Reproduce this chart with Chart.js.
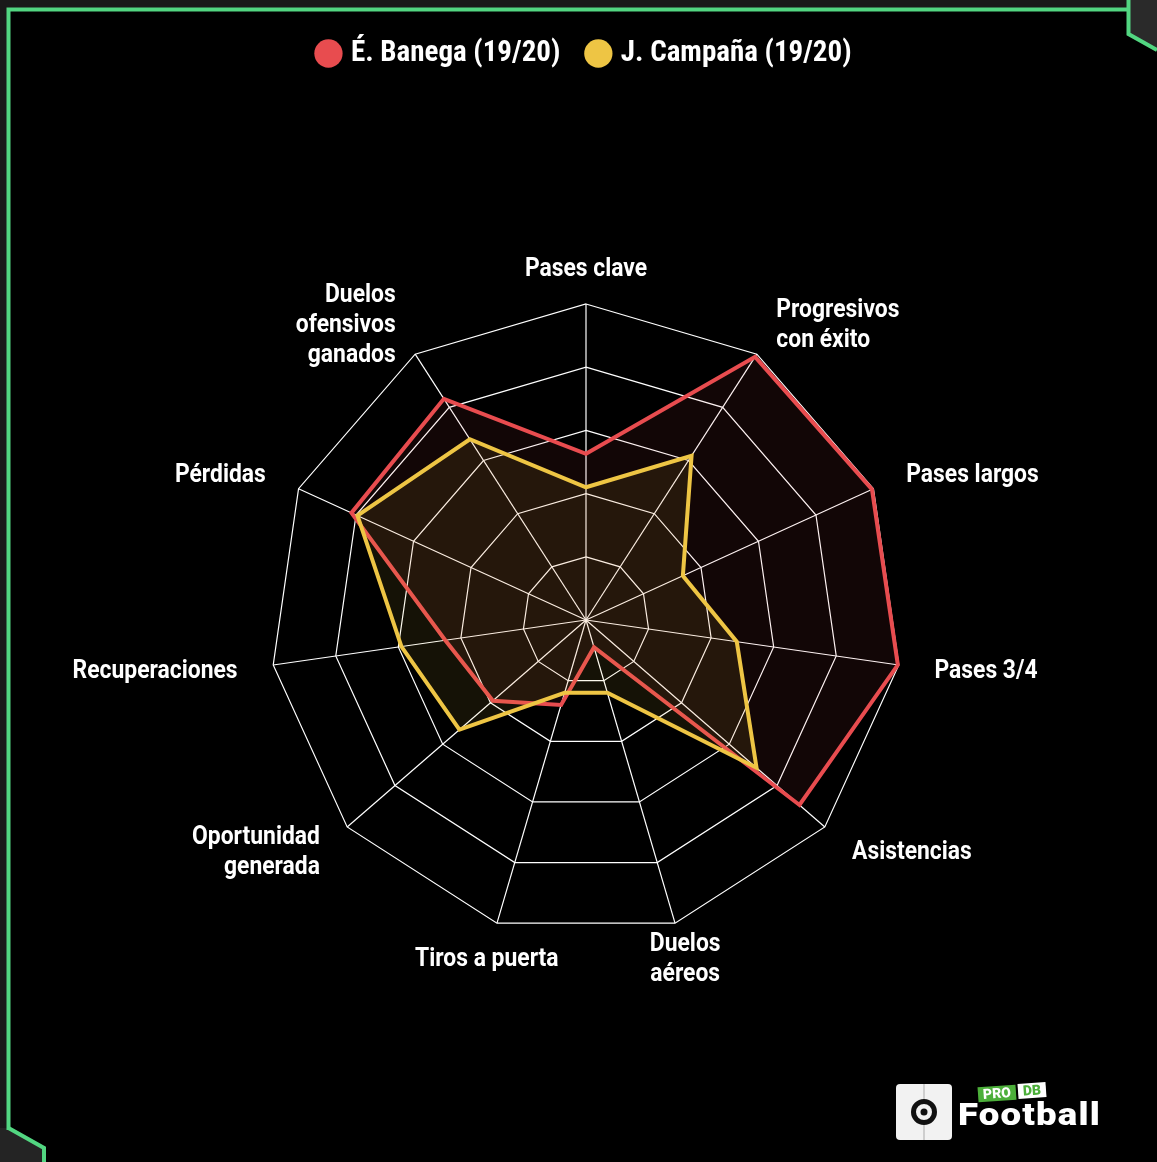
<!DOCTYPE html>
<html>
<head>
<meta charset="utf-8">
<script src="https://cdn.jsdelivr.net/npm/chart.js@4.4.1/dist/chart.umd.min.js"></script>
<style>
  html, body { margin: 0; padding: 0; background: #000; }
  #wrap { position: relative; width: 1157px; height: 1162px; overflow: hidden; background: #000; }
  #radar { position: absolute; left: 0; top: 0; }
  #frame { position: absolute; left: 0; top: 0; pointer-events: none; }
  #logo { position: absolute; left: 896px; top: 1082px; width: 220px; height: 60px; font-family: Roboto, sans-serif; }
  #logo svg { position: absolute; left: 0; top: 2px; }
  #logo .tag { position: absolute; top: 4px; height: 15px; line-height: 15px; font-size: 14px; font-weight: 900; padding: 0 5px; transform: rotate(-4deg); }
  #logo .pro { left: 82px; background: #4caf3a; color: #fff; }
  #logo .db { left: 122px; top: 1px; background: #fff; color: #4caf3a; }
  #logo .brand { position: absolute; left: 62px; top: 14px; color: #fff; font-size: 31px; font-weight: 900; letter-spacing: 1px; transform: scaleX(1.18); transform-origin: left top; }
</style>
</head>
<body>
<div id="wrap">
  <canvas id="radar" width="1157" height="1162"></canvas>
  <svg id="frame" width="1157" height="1162">
    <rect x="0" y="0" width="1157" height="8" fill="#191919"/>
    <rect x="0" y="0" width="7" height="1162" fill="#191919"/>
    <polygon points="1128.5,0 1157,0 1157,50 1128.5,34" fill="#2a2a2a"/>
    <polygon points="0,1128 8.5,1128 44,1148 44,1162 0,1162" fill="#242424"/>
    <polyline points="8.5,1130 8.5,9.5 1128.5,9.5" fill="none" stroke="#52d681" stroke-width="4"/>
    <polyline points="1128.5,0 1128.5,34 1157,50" fill="none" stroke="#52d681" stroke-width="4"/>
    <polyline points="8.5,1128 44,1148 44,1162" fill="none" stroke="#52d681" stroke-width="4"/>
  </svg>
  <div id="logo">
    <svg width="56" height="56" viewBox="0 0 56 56">
      <rect x="0" y="0" width="56" height="56" rx="4" fill="#f2f2f2"/>
      <line x1="28" y1="0" x2="28" y2="56" stroke="#aaa" stroke-width="1"/>
      <circle cx="28" cy="28" r="10.5" fill="#f2f2f2" stroke="#111" stroke-width="5"/>
      <circle cx="28" cy="28" r="3.5" fill="#111"/>
    </svg>
    <div class="tag pro">PRO</div>
    <div class="tag db">DB</div>
    <div class="brand">Football</div>
  </div>
</div>
<script>
// categories clockwise from the top
const categories = [
  'Pases clave',
  ['Progresivos', 'con éxito'],
  'Pases largos',
  'Pases 3/4',
  'Asistencias',
  ['Duelos', 'aéreos'],
  'Tiros a puerta',
  ['Oportunidad', 'generada'],
  'Recuperaciones',
  'Pérdidas',
  ['Duelos', 'ofensivos', 'ganados']
];

const banega = [52.6, 99, 99.5, 99.7, 89.4, 9, 28, 39, 45, 81.6, 83.2];
const campana = [42, 61.8, 33.7, 48.2, 71.4, 24, 24, 53, 59, 79.5, 68];

const seriesNames = ['É. Banega (19/20)', 'J. Campaña (19/20)'];
const seriesColors = ['#e84c4f', '#eec544'];
const seriesFills = ['rgba(232,76,79,0.08)', 'rgba(238,197,68,0.09)'];

const condensedFont = '"Roboto Condensed", "Liberation Sans Narrow", "DejaVu Sans Condensed", Roboto, sans-serif';

// axis names drawn next to each spoke, outside the outer ring
const axisLabels = {
  id: 'axisLabels',
  afterDraw(chart) {
    const scale = chart.scales.r;
    const ctx = chart.ctx;
    ctx.save();
    ctx.fillStyle = '#ffffff';
    ctx.font = 'bold 25px Roboto';
    ctx.textBaseline = 'middle';
    categories.forEach((label, i) => {
      const lines = [].concat(label);
      const p = scale.getPointPosition(i, scale.drawingArea + 36);
      const s = Math.sin(scale.getIndexAngle(i));
      ctx.textAlign = Math.abs(s) < 0.35 ? 'center' : (s > 0 ? 'left' : 'right');
      lines.forEach((line, k) => {
        const y = p.y + 2 + (k - (lines.length - 1) / 2) * 30;
        ctx.save();
        ctx.translate(p.x, y);
        ctx.scale(0.915, 1);
        ctx.fillText(line, 0, 0);
        ctx.restore();
      });
    });
    ctx.restore();
  }
};

const ctx = document.getElementById('radar').getContext('2d');
new Chart(ctx, {
  type: 'radar',
  data: {
    labels: categories,
    datasets: [
      {
        label: seriesNames[0],
        data: banega,
        borderColor: seriesColors[0],
        backgroundColor: seriesFills[0],
        borderWidth: 4,
        pointRadius: 0,
        fill: true,
        order: 1
      },
      {
        label: seriesNames[1],
        data: campana,
        borderColor: seriesColors[1],
        backgroundColor: seriesFills[1],
        borderWidth: 4,
        pointRadius: 0,
        fill: true,
        order: 0
      }
    ]
  },
  options: {
    responsive: false,
    animation: false,
    devicePixelRatio: 1,
    layout: {
      padding: { left: 270, right: 255, top: 9, bottom: 0 }
    },
    plugins: {
      tooltip: { enabled: false },
      legend: {
        position: 'top',
        labels: {
          color: '#ffffff',
          usePointStyle: true,
          pointStyle: 'circle',
          boxWidth: 16,
          boxHeight: 20,
          padding: 30,
          font: { family: condensedFont, size: 29, weight: 'bold' },
          sort: (a, b) => a.datasetIndex - b.datasetIndex,
          generateLabels: (chart) => {
            const items = Chart.defaults.plugins.legend.labels.generateLabels(chart);
            return items.map((item) => ({
              ...item,
              fillStyle: seriesColors[item.datasetIndex],
              strokeStyle: seriesColors[item.datasetIndex],
              lineWidth: 0,
              pointStyle: 'circle'
            }));
          }
        }
      }
    },
    scales: {
      r: {
        min: 0,
        max: 100,
        ticks: { display: false, stepSize: 20 },
        grid: { color: '#ffffff', lineWidth: 1.2 },
        angleLines: { color: '#ffffff', lineWidth: 1.2 },
        pointLabels: { display: false }
      }
    }
  },
  plugins: [axisLabels]
});
</script>
</body>
</html>
